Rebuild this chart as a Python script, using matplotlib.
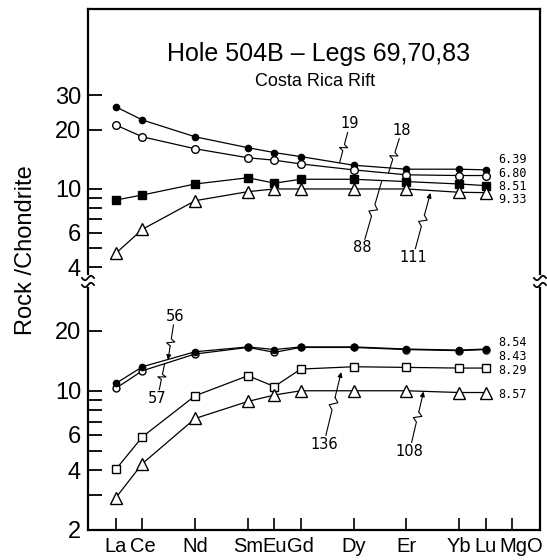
import matplotlib

matplotlib.use("Agg")

import matplotlib.pyplot as plt
import numpy as np
from matplotlib.lines import Line2D
from matplotlib.patches import FancyArrowPatch
from matplotlib.ticker import FixedLocator, FixedFormatter, NullLocator

plt.rcParams["font.family"] = ["Liberation Sans", "DejaVu Sans"]

# REE positions (atomic number) and the MgO column
elements = ["La", "Ce", "Nd", "Sm", "Eu", "Gd", "Dy", "Er", "Yb", "Lu"]
atomic_no = [57, 58, 60, 62, 63, 64, 66, 68, 70, 71]
mgo_x = 72

# upper panel: samples 19, 18, 88, 111
s19 = [26.1, 22.4, 18.4, 16.2, 15.3, 14.6, 13.2, 12.6, 12.6, 12.5]
s18 = [21.1, 18.4, 16.0, 14.4, 14.0, 13.4, 12.5, 11.8, 11.7, 11.7]
s88 = [8.79, 9.32, 10.6, 11.4, 10.7, 11.2, 11.2, 10.9, 10.6, 10.4]
s111 = [4.72, 6.24, 8.72, 9.69, 10.0, 10.0, 10.0, 10.0, 9.62, 9.58]
mgo_upper = ["6.39", "6.80", "8.51", "9.33"]

# lower panel: samples 56, 57, 136, 108
s56 = [10.9, 13.2, 15.7, 16.6, 16.1, 16.6, 16.6, 16.2, 16.0, 16.2]
s57 = [10.3, 12.6, 15.3, 16.5, 15.6, 16.5, 16.5, 16.1, 15.9, 16.1]
s136 = [4.04, 5.87, 9.44, 11.9, 10.5, 12.85, 13.2, 13.1, 13.0, 13.0]
s108 = [2.91, 4.31, 7.26, 8.84, 9.52, 10.0, 10.0, 10.0, 9.8, 9.8]
mgo_lower = ["8.54", "8.43", "8.29", "8.57"]

W, H = 547, 560
fig = plt.figure(figsize=(W / 100, H / 100), dpi=100)
ax_up = fig.add_axes([88 / W, 1 - 274 / H, 452 / W, 265 / H])
ax_lo = fig.add_axes([88 / W, 1 - 530 / H, 452 / W, 242 / H])

for ax in (ax_up, ax_lo):
    ax.set_yscale("log")
    ax.set_xlim(55.94, 73.06)
    for sp in ax.spines.values():
        sp.set_linewidth(1.6)
    ax.tick_params(axis="y", which="both", direction="in", length=10,
                   width=1.3, labelsize=17, pad=5, right=False)
    ax.yaxis.set_minor_locator(NullLocator())

ax_up.spines["bottom"].set_visible(False)
ax_lo.spines["top"].set_visible(False)
ax_up.set_ylim(3.70, 82)
ax_lo.set_ylim(2, 32.8)

up_ticks = [4, 5, 6, 7, 8, 9, 10, 20, 30]
up_labels = ["4", "", "6", "", "", "", "10", "20", "30"]
lo_ticks = [2, 3, 4, 5, 6, 7, 8, 9, 10, 20]
lo_labels = ["2", "", "4", "", "6", "", "", "", "10", "20"]
ax_up.yaxis.set_major_locator(FixedLocator(up_ticks))
ax_up.yaxis.set_major_formatter(FixedFormatter(up_labels))
ax_lo.yaxis.set_major_locator(FixedLocator(lo_ticks))
ax_lo.yaxis.set_major_formatter(FixedFormatter(lo_labels))

ax_up.set_xticks([])
ax_lo.set_xticks(atomic_no + [mgo_x])
ax_lo.set_xticklabels(elements + [""])
ax_lo.tick_params(axis="x", direction="in", length=9, width=1.2,
                  labelsize=14.5, pad=5)
ax_lo.annotate("MgO", xy=(72.35, 0), xycoords=("data", "axes fraction"),
               xytext=(0, -5), textcoords="offset points",
               ha="center", va="top", fontsize=14.5)

line_kw = dict(color="black", lw=0.9, clip_on=False)
ax_up.plot(atomic_no, s19, marker="o", ms=4.5, mfc="black", mec="black", **line_kw)
ax_up.plot(atomic_no, s18, marker="o", ms=5.5, mfc="white", mec="black", mew=1.0, **line_kw)
ax_up.plot(atomic_no, s88, marker="s", ms=5.5, mfc="black", mec="black", **line_kw)
ax_up.plot(atomic_no, s111, marker="^", ms=8, mfc="white", mec="black", mew=1.0, **line_kw)

ax_lo.plot(atomic_no, s57, marker="o", ms=5, mfc="white", mec="black", mew=1.0, **line_kw)
ax_lo.plot(atomic_no, s56, marker="o", ms=4.5, mfc="black", mec="black", **line_kw)
ax_lo.plot(atomic_no, s136, marker="s", ms=5.5, mfc="white", mec="black", mew=1.0, **line_kw)
ax_lo.plot(atomic_no, s108, marker="^", ms=8, mfc="white", mec="black", mew=1.0, **line_kw)

# MgO values written in the MgO column
num_font = dict(family="DejaVu Sans Mono", fontsize=8.5, ha="center", va="center")
for txt, y in zip(mgo_upper, [14.1, 12.05, 10.3, 8.8]):
    ax_up.text(mgo_x, y, txt, **num_font)
for txt, y in zip(mgo_lower, [17.5, 14.8, 12.7, 9.62]):
    ax_lo.text(mgo_x, y, txt, **num_font)


def leader(ax, label, lab_xy, tgt_xy, arrow=False):
    ax.text(*lab_xy, label, family="DejaVu Sans", fontsize=10.5,
            ha="center", va="center")
    p0 = ax.transData.transform(lab_xy)
    p1 = ax.transData.transform(tgt_xy)
    d = p1 - p0
    u = d / np.hypot(*d)
    n = np.array([-u[1], u[0]])
    start = p0 + u * 9
    d2 = p1 - start
    pts = np.array([start,
                    start + 0.40 * d2,
                    start + 0.47 * d2 + 4 * n,
                    start + 0.53 * d2 - 4 * n,
                    start + 0.60 * d2,
                    p1])
    pts = pts / [W, H]
    end = len(pts) - 1 if arrow else len(pts)
    fig.add_artist(Line2D(pts[:end, 0], pts[:end, 1], color="black",
                          lw=0.8, transform=fig.transFigure))
    if arrow:
        fig.add_artist(FancyArrowPatch(pts[-2], pts[-1], transform=fig.transFigure,
                                       arrowstyle="-|>", mutation_scale=7,
                                       color="black", lw=0.8,
                                       shrinkA=0, shrinkB=0))


leader(ax_up, "19", (65.86, 21.4), (65.47, 13.6))
leader(ax_up, "18", (67.83, 19.9), (67.32, 12.05))
leader(ax_up, "88", (66.33, 5.02), (67.06, 10.9))
leader(ax_up, "111", (68.25, 4.5), (68.91, 9.54), arrow=True)
leader(ax_lo, "56", (59.23, 23.7), (58.97, 14.3), arrow=True)
leader(ax_lo, "57", (58.57, 9.15), (58.84, 13.6))
leader(ax_lo, "136", (64.87, 5.4), (65.53, 12.4), arrow=True)
leader(ax_lo, "108", (68.12, 4.98), (68.65, 9.9), arrow=True)

# titles
ax_up.text(0.51, 0.83, "Hole 504B – Legs 69,70,83", transform=ax_up.transAxes,
           ha="center", va="center", fontsize=18)
ax_up.text(0.502, 0.725, "Costa Rica Rift", transform=ax_up.transAxes,
           ha="center", va="center", fontsize=13)
fig.text(26 / W, 1 - 250 / H, "Rock /Chondrite", rotation=90,
         ha="center", va="center", fontsize=17)

# axis break marks
xs = np.linspace(-6, 6, 25)
for x0 in (88, 540):
    for y0 in (278, 285):
        ys = y0 - 2.2 * np.sin(np.pi * xs / 6)
        fig.add_artist(Line2D((x0 + xs) / W, 1 - ys / H, color="black",
                              lw=1.3, transform=fig.transFigure))

fig.savefig("out.png", dpi=100)
